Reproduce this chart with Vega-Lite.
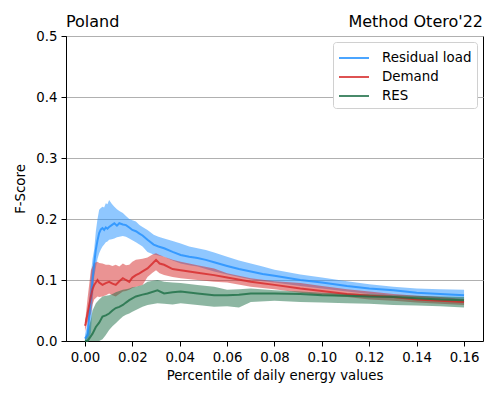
{
  "$schema": "https://vega.github.io/schema/vega-lite/v6.json",
  "autosize": "none",
  "width": 417,
  "height": 305,
  "padding": {"left": 66, "top": 36, "right": 15, "bottom": 58},
  "background": "white",
  "config": {
    "font": "DejaVu Sans",
    "view": {"stroke": "black", "strokeWidth": 1},
    "axis": {"labelFont": "DejaVu Sans", "labelFontSize": 13.3, "labelColor": "black", "titleFont": "DejaVu Sans", "titleFontSize": 13.3, "titleFontWeight": "normal", "titleColor": "black", "domainColor": "black", "tickColor": "black", "tickSize": 5, "tickWidth": 1, "gridColor": "#b0b0b0", "gridWidth": 1}
  },
  "datasets": {
    "series": [
      {"s": "Residual load", "x": 0.0, "m": 0.004, "lo": 0.0, "hi": 0.01},
      {"s": "Residual load", "x": 0.0011, "m": 0.01, "lo": 0.0, "hi": 0.03},
      {"s": "Residual load", "x": 0.0025, "m": 0.07, "lo": 0.013, "hi": 0.11},
      {"s": "Residual load", "x": 0.0032, "m": 0.1, "lo": 0.06, "hi": 0.135},
      {"s": "Residual load", "x": 0.0039, "m": 0.127, "lo": 0.105, "hi": 0.15},
      {"s": "Residual load", "x": 0.0046, "m": 0.15, "lo": 0.12, "hi": 0.18},
      {"s": "Residual load", "x": 0.0053, "m": 0.165, "lo": 0.135, "hi": 0.2},
      {"s": "Residual load", "x": 0.006, "m": 0.177, "lo": 0.144, "hi": 0.215},
      {"s": "Residual load", "x": 0.0067, "m": 0.183, "lo": 0.15, "hi": 0.218},
      {"s": "Residual load", "x": 0.0074, "m": 0.185, "lo": 0.155, "hi": 0.22},
      {"s": "Residual load", "x": 0.0081, "m": 0.182, "lo": 0.158, "hi": 0.219},
      {"s": "Residual load", "x": 0.0088, "m": 0.186, "lo": 0.162, "hi": 0.226},
      {"s": "Residual load", "x": 0.0095, "m": 0.184, "lo": 0.163, "hi": 0.224},
      {"s": "Residual load", "x": 0.0102, "m": 0.187, "lo": 0.166, "hi": 0.231},
      {"s": "Residual load", "x": 0.0113, "m": 0.19, "lo": 0.167, "hi": 0.225},
      {"s": "Residual load", "x": 0.0124, "m": 0.193, "lo": 0.168, "hi": 0.22},
      {"s": "Residual load", "x": 0.0135, "m": 0.189, "lo": 0.17, "hi": 0.216},
      {"s": "Residual load", "x": 0.0145, "m": 0.193, "lo": 0.171, "hi": 0.213},
      {"s": "Residual load", "x": 0.016, "m": 0.191, "lo": 0.172, "hi": 0.21},
      {"s": "Residual load", "x": 0.0173, "m": 0.19, "lo": 0.171, "hi": 0.205},
      {"s": "Residual load", "x": 0.0187, "m": 0.186, "lo": 0.168, "hi": 0.2},
      {"s": "Residual load", "x": 0.02, "m": 0.182, "lo": 0.165, "hi": 0.198},
      {"s": "Residual load", "x": 0.0215, "m": 0.18, "lo": 0.162, "hi": 0.196},
      {"s": "Residual load", "x": 0.023, "m": 0.176, "lo": 0.158, "hi": 0.19},
      {"s": "Residual load", "x": 0.0243, "m": 0.173, "lo": 0.155, "hi": 0.187},
      {"s": "Residual load", "x": 0.0264, "m": 0.166, "lo": 0.146, "hi": 0.182},
      {"s": "Residual load", "x": 0.029, "m": 0.158, "lo": 0.142, "hi": 0.174},
      {"s": "Residual load", "x": 0.031, "m": 0.155, "lo": 0.14, "hi": 0.171},
      {"s": "Residual load", "x": 0.0334, "m": 0.152, "lo": 0.138, "hi": 0.168},
      {"s": "Residual load", "x": 0.037, "m": 0.146, "lo": 0.132, "hi": 0.164},
      {"s": "Residual load", "x": 0.0404, "m": 0.141, "lo": 0.127, "hi": 0.16},
      {"s": "Residual load", "x": 0.044, "m": 0.138, "lo": 0.124, "hi": 0.155},
      {"s": "Residual load", "x": 0.0475, "m": 0.136, "lo": 0.122, "hi": 0.152},
      {"s": "Residual load", "x": 0.051, "m": 0.133, "lo": 0.118, "hi": 0.149},
      {"s": "Residual load", "x": 0.0545, "m": 0.129, "lo": 0.114, "hi": 0.145},
      {"s": "Residual load", "x": 0.06, "m": 0.123, "lo": 0.109, "hi": 0.138},
      {"s": "Residual load", "x": 0.065, "m": 0.118, "lo": 0.105, "hi": 0.132},
      {"s": "Residual load", "x": 0.07, "m": 0.114, "lo": 0.101, "hi": 0.127},
      {"s": "Residual load", "x": 0.075, "m": 0.11, "lo": 0.098, "hi": 0.122},
      {"s": "Residual load", "x": 0.08, "m": 0.107, "lo": 0.096, "hi": 0.117},
      {"s": "Residual load", "x": 0.0909, "m": 0.1, "lo": 0.09, "hi": 0.109},
      {"s": "Residual load", "x": 0.1, "m": 0.096, "lo": 0.086, "hi": 0.104},
      {"s": "Residual load", "x": 0.1106, "m": 0.09, "lo": 0.081, "hi": 0.098},
      {"s": "Residual load", "x": 0.12, "m": 0.086, "lo": 0.077, "hi": 0.093},
      {"s": "Residual load", "x": 0.1302, "m": 0.083, "lo": 0.074, "hi": 0.089},
      {"s": "Residual load", "x": 0.14, "m": 0.079, "lo": 0.072, "hi": 0.086},
      {"s": "Residual load", "x": 0.1499, "m": 0.077, "lo": 0.069, "hi": 0.085},
      {"s": "Residual load", "x": 0.16, "m": 0.075, "lo": 0.068, "hi": 0.084},

      {"s": "Demand", "x": 0.0, "m": 0.025, "lo": 0.015, "hi": 0.035},
      {"s": "Demand", "x": 0.0003, "m": 0.029, "lo": 0.02, "hi": 0.04},
      {"s": "Demand", "x": 0.0011, "m": 0.045, "lo": 0.03, "hi": 0.07},
      {"s": "Demand", "x": 0.0025, "m": 0.073, "lo": 0.045, "hi": 0.116},
      {"s": "Demand", "x": 0.0032, "m": 0.085, "lo": 0.06, "hi": 0.122},
      {"s": "Demand", "x": 0.0039, "m": 0.092, "lo": 0.068, "hi": 0.128},
      {"s": "Demand", "x": 0.0053, "m": 0.1, "lo": 0.073, "hi": 0.13},
      {"s": "Demand", "x": 0.006, "m": 0.096, "lo": 0.072, "hi": 0.128},
      {"s": "Demand", "x": 0.0074, "m": 0.092, "lo": 0.073, "hi": 0.127},
      {"s": "Demand", "x": 0.0088, "m": 0.095, "lo": 0.075, "hi": 0.125},
      {"s": "Demand", "x": 0.0102, "m": 0.097, "lo": 0.078, "hi": 0.125},
      {"s": "Demand", "x": 0.0116, "m": 0.094, "lo": 0.075, "hi": 0.123},
      {"s": "Demand", "x": 0.013, "m": 0.092, "lo": 0.073, "hi": 0.125},
      {"s": "Demand", "x": 0.0145, "m": 0.098, "lo": 0.077, "hi": 0.122},
      {"s": "Demand", "x": 0.016, "m": 0.103, "lo": 0.081, "hi": 0.127},
      {"s": "Demand", "x": 0.0173, "m": 0.1, "lo": 0.082, "hi": 0.124},
      {"s": "Demand", "x": 0.0187, "m": 0.097, "lo": 0.084, "hi": 0.125},
      {"s": "Demand", "x": 0.02, "m": 0.104, "lo": 0.087, "hi": 0.13},
      {"s": "Demand", "x": 0.0215, "m": 0.108, "lo": 0.089, "hi": 0.133},
      {"s": "Demand", "x": 0.023, "m": 0.111, "lo": 0.09, "hi": 0.134},
      {"s": "Demand", "x": 0.0243, "m": 0.114, "lo": 0.092, "hi": 0.135},
      {"s": "Demand", "x": 0.0264, "m": 0.119, "lo": 0.105, "hi": 0.137},
      {"s": "Demand", "x": 0.0285, "m": 0.127, "lo": 0.112, "hi": 0.142},
      {"s": "Demand", "x": 0.03, "m": 0.133, "lo": 0.116, "hi": 0.144},
      {"s": "Demand", "x": 0.0315, "m": 0.127, "lo": 0.111, "hi": 0.141},
      {"s": "Demand", "x": 0.0334, "m": 0.125, "lo": 0.108, "hi": 0.138},
      {"s": "Demand", "x": 0.037, "m": 0.118, "lo": 0.105, "hi": 0.133},
      {"s": "Demand", "x": 0.0404, "m": 0.116, "lo": 0.103, "hi": 0.13},
      {"s": "Demand", "x": 0.0475, "m": 0.112, "lo": 0.1, "hi": 0.124},
      {"s": "Demand", "x": 0.0545, "m": 0.108, "lo": 0.097, "hi": 0.119},
      {"s": "Demand", "x": 0.06, "m": 0.104, "lo": 0.096, "hi": 0.111},
      {"s": "Demand", "x": 0.07, "m": 0.097, "lo": 0.089, "hi": 0.103},
      {"s": "Demand", "x": 0.08, "m": 0.092, "lo": 0.085, "hi": 0.098},
      {"s": "Demand", "x": 0.0909, "m": 0.086, "lo": 0.079, "hi": 0.095},
      {"s": "Demand", "x": 0.1, "m": 0.082, "lo": 0.075, "hi": 0.09},
      {"s": "Demand", "x": 0.1106, "m": 0.077, "lo": 0.072, "hi": 0.085},
      {"s": "Demand", "x": 0.12, "m": 0.074, "lo": 0.068, "hi": 0.081},
      {"s": "Demand", "x": 0.1302, "m": 0.072, "lo": 0.066, "hi": 0.077},
      {"s": "Demand", "x": 0.14, "m": 0.068, "lo": 0.063, "hi": 0.074},
      {"s": "Demand", "x": 0.1499, "m": 0.066, "lo": 0.061, "hi": 0.072},
      {"s": "Demand", "x": 0.16, "m": 0.064, "lo": 0.059, "hi": 0.069},

      {"s": "RES", "x": 0.0, "m": 0.0, "lo": 0.0, "hi": 0.003},
      {"s": "RES", "x": 0.0011, "m": 0.0, "lo": 0.0, "hi": 0.015},
      {"s": "RES", "x": 0.0025, "m": 0.008, "lo": 0.0, "hi": 0.035},
      {"s": "RES", "x": 0.0032, "m": 0.012, "lo": 0.0, "hi": 0.05},
      {"s": "RES", "x": 0.0046, "m": 0.023, "lo": 0.0, "hi": 0.062},
      {"s": "RES", "x": 0.006, "m": 0.03, "lo": 0.0, "hi": 0.068},
      {"s": "RES", "x": 0.0074, "m": 0.04, "lo": 0.003, "hi": 0.073},
      {"s": "RES", "x": 0.0088, "m": 0.042, "lo": 0.01, "hi": 0.074},
      {"s": "RES", "x": 0.0102, "m": 0.045, "lo": 0.018, "hi": 0.075},
      {"s": "RES", "x": 0.0116, "m": 0.05, "lo": 0.024, "hi": 0.077},
      {"s": "RES", "x": 0.013, "m": 0.054, "lo": 0.029, "hi": 0.08},
      {"s": "RES", "x": 0.0145, "m": 0.056, "lo": 0.035, "hi": 0.082},
      {"s": "RES", "x": 0.016, "m": 0.059, "lo": 0.04, "hi": 0.084},
      {"s": "RES", "x": 0.0173, "m": 0.063, "lo": 0.043, "hi": 0.085},
      {"s": "RES", "x": 0.0187, "m": 0.067, "lo": 0.045, "hi": 0.086},
      {"s": "RES", "x": 0.02, "m": 0.07, "lo": 0.048, "hi": 0.088},
      {"s": "RES", "x": 0.0215, "m": 0.073, "lo": 0.051, "hi": 0.089},
      {"s": "RES", "x": 0.0243, "m": 0.076, "lo": 0.056, "hi": 0.092},
      {"s": "RES", "x": 0.0264, "m": 0.078, "lo": 0.059, "hi": 0.097},
      {"s": "RES", "x": 0.0306, "m": 0.083, "lo": 0.062, "hi": 0.1},
      {"s": "RES", "x": 0.0334, "m": 0.078, "lo": 0.061, "hi": 0.097},
      {"s": "RES", "x": 0.037, "m": 0.08, "lo": 0.06, "hi": 0.096},
      {"s": "RES", "x": 0.0404, "m": 0.081, "lo": 0.062, "hi": 0.095},
      {"s": "RES", "x": 0.0475, "m": 0.078, "lo": 0.059, "hi": 0.092},
      {"s": "RES", "x": 0.0545, "m": 0.075, "lo": 0.056, "hi": 0.089},
      {"s": "RES", "x": 0.06, "m": 0.075, "lo": 0.057, "hi": 0.084},
      {"s": "RES", "x": 0.065, "m": 0.076, "lo": 0.055, "hi": 0.085},
      {"s": "RES", "x": 0.07, "m": 0.078, "lo": 0.064, "hi": 0.086},
      {"s": "RES", "x": 0.08, "m": 0.078, "lo": 0.066, "hi": 0.083},
      {"s": "RES", "x": 0.0909, "m": 0.077, "lo": 0.064, "hi": 0.081},
      {"s": "RES", "x": 0.1, "m": 0.075, "lo": 0.063, "hi": 0.079},
      {"s": "RES", "x": 0.1106, "m": 0.074, "lo": 0.062, "hi": 0.078},
      {"s": "RES", "x": 0.12, "m": 0.073, "lo": 0.061, "hi": 0.077},
      {"s": "RES", "x": 0.1302, "m": 0.072, "lo": 0.059, "hi": 0.075},
      {"s": "RES", "x": 0.14, "m": 0.07, "lo": 0.058, "hi": 0.074},
      {"s": "RES", "x": 0.1499, "m": 0.068, "lo": 0.057, "hi": 0.073},
      {"s": "RES", "x": 0.16, "m": 0.067, "lo": 0.055, "hi": 0.072}
    ],
    "leftTitle": [{"t": "Poland"}],
    "rightTitle": [{"t": "Method Otero'22"}]
  },
  "layer": [
    {
      "data": {"name": "series"},
      "mark": {"type": "area", "fillOpacity": 0.5},
      "encoding": {
        "x": {"field": "x", "type": "quantitative", "scale": {"domain": [-0.008, 0.168], "nice": false, "zero": false},
          "axis": {"values": [0, 0.02, 0.04, 0.06, 0.08, 0.1, 0.12, 0.14, 0.16], "format": ".2f", "grid": false, "labelPadding": 4, "title": "Percentile of daily energy values", "titlePadding": 5}},
        "y": {"field": "lo", "type": "quantitative", "scale": {"domain": [0, 0.5], "nice": false},
          "axis": {"values": [0, 0.1, 0.2, 0.3, 0.4, 0.5], "format": ".1f", "grid": true, "labelPadding": 4, "title": "F-Score", "titlePadding": 8}},
        "y2": {"field": "hi"},
        "fill": {"field": "s", "type": "nominal", "scale": {"domain": ["RES", "Demand", "Residual load"], "range": ["#1b6e45", "#d62728", "#1f8fff"]}, "legend": null}
      }
    },
    {
      "data": {"name": "series"},
      "mark": {"type": "line", "strokeWidth": 2, "opacity": 0.8},
      "encoding": {
        "x": {"field": "x", "type": "quantitative"},
        "y": {"field": "m", "type": "quantitative"},
        "stroke": {"field": "s", "type": "nominal", "scale": {"domain": ["Residual load", "Demand", "RES"], "range": ["#1f8fff", "#d62728", "#1b6e45"]},
          "legend": {"title": null, "orient": "top-right", "offset": 6, "labelFont": "DejaVu Sans", "labelFontSize": 13.4, "labelColor": "black", "symbolType": "M-1.5,0H1.5", "symbolSize": 400, "symbolStrokeWidth": 2, "symbolOpacity": 0.8, "symbolOffset": 5, "strokeColor": "#d0d0d0", "fillColor": "white", "cornerRadius": 3, "padding": 5, "rowPadding": 1, "labelOffset": 17}}
      }
    },
    {
      "data": {"name": "leftTitle"},
      "mark": {"type": "text", "align": "left", "baseline": "alphabetic", "dy": -9, "fontSize": 16, "font": "DejaVu Sans", "color": "black"},
      "encoding": {
        "text": {"field": "t"},
        "x": {"datum": -0.008},
        "y": {"datum": 0.5}
      }
    },
    {
      "data": {"name": "rightTitle"},
      "mark": {"type": "text", "align": "right", "baseline": "alphabetic", "dy": -9, "fontSize": 16, "font": "DejaVu Sans", "color": "black"},
      "encoding": {
        "text": {"field": "t"},
        "x": {"datum": 0.168},
        "y": {"datum": 0.5}
      }
    }
  ]
}
